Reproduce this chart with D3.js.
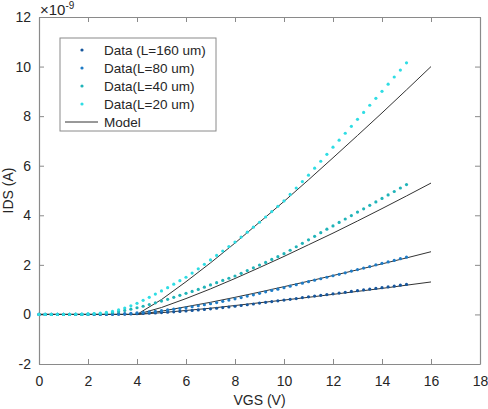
<!DOCTYPE html>
<html>
<head>
<meta charset="utf-8">
<script src="https://cdn.jsdelivr.net/npm/d3@7"></script>
<style>
  body { margin: 0; background: #fff; }
  svg { display: block; font-family: "Liberation Sans", Arial, sans-serif; }
</style>
</head>
<body>
<svg id="chart" width="488" height="409"></svg>
<script>
// measured points, VGS 0..15 V in 0.25 V steps, IDS in units of 1e-9 A
const vgsData = d3.range(0, 15.001, 0.25);

const idsL160 = [0,0,0,0,0,0,0,0,0,0,0,0,0.005,0.01,0.01,0.02,
  0.03,0.04,0.05,0.06,0.075,0.09,0.105,0.12,0.14,0.16,0.18,0.20,0.225,0.25,0.275,0.30,
  0.33,0.36,0.39,0.42,0.46,0.49,0.52,0.55,0.58,0.61,0.64,0.68,0.71,0.74,0.77,0.80,
  0.83,0.86,0.89,0.93,0.96,0.99,1.02,1.05,1.08,1.11,1.14,1.18,1.21];

const idsL80 = [0,0,0,0,0,0,0,0,0,0,0,0.01,0.01,0.02,0.03,0.04,
  0.06,0.08,0.10,0.12,0.15,0.18,0.21,0.24,0.27,0.31,0.35,0.39,0.43,0.48,0.53,0.58,
  0.63,0.68,0.74,0.79,0.85,0.91,0.97,1.02,1.08,1.14,1.20,1.26,1.32,1.38,1.44,1.50,
  1.56,1.62,1.68,1.75,1.81,1.87,1.93,2.00,2.06,2.12,2.18,2.25,2.31];

const idsL40 = [0,0,0,0,0,0,0,0,0.01,0.02,0.03,0.05,0.08,0.11,0.16,0.21,
  0.27,0.33,0.40,0.47,0.54,0.61,0.69,0.77,0.85,0.93,1.01,1.10,1.19,1.28,1.37,1.46,
  1.55,1.66,1.77,1.88,1.99,2.10,2.22,2.33,2.45,2.59,2.73,2.87,3.01,3.15,3.30,3.44,
  3.57,3.71,3.85,3.99,4.13,4.26,4.40,4.54,4.68,4.82,4.96,5.10,5.24];

const idsL20 = [0,0,0,0,0,0,0.01,0.01,0.02,0.03,0.05,0.08,0.12,0.18,0.26,0.35,
  0.45,0.57,0.69,0.82,0.95,1.08,1.22,1.36,1.50,1.67,1.84,2.02,2.20,2.38,2.56,2.74,
  2.92,3.12,3.32,3.52,3.72,3.93,4.15,4.36,4.58,4.84,5.10,5.36,5.62,5.90,6.18,6.46,
  6.75,7.03,7.31,7.59,7.87,8.15,8.44,8.72,9.00,9.29,9.58,9.86,10.15];

// model curves, VGS 0..16 V in 1 V steps
const vgsModel = d3.range(0, 16.001, 1);
const modelL160 = [0,0,0,0,0,0.07,0.16,0.25,0.36,0.47,0.58,0.69,0.81,0.93,1.05,1.18,1.31];
const modelL80  = [0,0,0,0,0,0.13,0.31,0.49,0.69,0.90,1.12,1.34,1.57,1.80,2.04,2.28,2.53];
const modelL40  = [0,0,0,0,0,0.28,0.64,1.03,1.45,1.89,2.34,2.81,3.28,3.77,4.27,4.78,5.30];
const modelL20  = [0,0,0,0,0,0.60,1.32,2.08,2.88,3.72,4.56,5.43,6.32,7.22,8.13,9.06,10.0];

const seriesNames = ["Data (L=160 um)", "Data(L=80 um)", "Data(L=40 um)", "Data(L=20 um)"];
const seriesColors = ["#16569c", "#1f7cc6", "#20b4b9", "#2fdde4"];
const xTicks = [0, 2, 4, 6, 8, 10, 12, 14, 16, 18];
const yTicks = [-2, 0, 2, 4, 6, 8, 10, 12];

const svg = d3.select("#chart");
const margin = {left: 39, right: 8, top: 17, bottom: 45};
const width = 488, height = 409;

const x = d3.scaleLinear().domain([0, 18]).range([margin.left, width - margin.right]);
const y = d3.scaleLinear().domain([-2, 12]).range([height - margin.bottom, margin.top]);

const axisColor = "#8a8a8a";
const textColor = "#262626";
const x0 = x(0), x1 = x(18), y0 = y(-2), y1 = y(12);

/** Axes
------------------------------------------------------------*/

const plain = d => String(d); // keep a hyphen for negatives, like the original

const gx = svg.append("g").attr("transform", `translate(0,${y0})`)
  .call(d3.axisBottom(x).tickValues(xTicks).tickFormat(plain)
    .tickSizeInner(-5).tickSizeOuter(0).tickPadding(12));
const gxTop = svg.append("g").attr("transform", `translate(0,${y1})`)
  .call(d3.axisTop(x).tickValues(xTicks).tickSizeInner(-5).tickSizeOuter(0).tickFormat(""));
const gy = svg.append("g").attr("transform", `translate(${x0},0)`)
  .call(d3.axisLeft(y).tickValues(yTicks).tickFormat(plain)
    .tickSizeInner(-5).tickSizeOuter(0).tickPadding(8));
const gyRight = svg.append("g").attr("transform", `translate(${x1},0)`)
  .call(d3.axisRight(y).tickValues(yTicks).tickSizeInner(-5).tickSizeOuter(0).tickFormat(""));

[gx, gxTop, gy, gyRight].forEach(g => {
  g.select(".domain").attr("stroke", axisColor).attr("stroke-width", 1.2);
  g.selectAll(".tick line").attr("stroke", axisColor);
  g.selectAll(".tick text")
    .attr("fill", textColor)
    .attr("font-size", 14)
    .attr("font-family", "'Liberation Sans', Arial, sans-serif");
});

// exponent label
const expo = svg.append("text")
  .attr("x", x0 + 1)
  .attr("y", y1 - 2)
  .attr("font-size", 15)
  .attr("fill", textColor);
expo.append("tspan").text("\u00d710");
expo.append("tspan").attr("dy", -6).attr("font-size", 10).text("-9");

svg.append("text")
  .attr("x", (x0 + x1) / 2)
  .attr("y", height - 4)
  .attr("text-anchor", "middle")
  .attr("font-size", 14)
  .attr("fill", textColor)
  .text("VGS (V)");

svg.append("text")
  .attr("transform", `translate(13,${(y0 + y1) / 2}) rotate(-90)`)
  .attr("text-anchor", "middle")
  .attr("font-size", 14)
  .attr("fill", textColor)
  .text("IDS (A)");

/** Marks
------------------------------------------------------------*/

const dataSeries = [idsL160, idsL80, idsL40, idsL20];
const modelSeries = [modelL160, modelL80, modelL40, modelL20];

const line = d3.line()
  .x((d, i) => x(vgsModel[i]))
  .y(d => y(d));

svg.append("g")
  .selectAll("path")
  .data(modelSeries)
  .enter().append("path")
  .attr("d", line)
  .attr("fill", "none")
  .attr("stroke", "#333")
  .attr("stroke-width", 1);

svg.append("g")
  .selectAll("g")
  .data(dataSeries)
  .enter().append("g")
  .attr("fill", (d, i) => seriesColors[i])
  .selectAll("circle")
  .data(d => d)
  .enter().append("circle")
  .attr("cx", (d, i) => x(vgsData[i]))
  .attr("cy", d => y(d))
  .attr("r", 1.6);

/** Legend
------------------------------------------------------------*/

const legend = svg.append("g").attr("transform", "translate(60,38)");
legend.append("rect")
  .attr("width", 156).attr("height", 93)
  .attr("fill", "#fff")
  .attr("stroke", axisColor);

const rowY = i => 12 + i * 18;

seriesNames.forEach((name, i) => {
  legend.append("circle")
    .attr("cx", 22).attr("cy", rowY(i))
    .attr("r", 1.6)
    .attr("fill", seriesColors[i]);
  legend.append("text")
    .attr("x", 44).attr("y", rowY(i) + 5)
    .attr("font-size", 13.5)
    .attr("fill", textColor)
    .text(name);
});

legend.append("line")
  .attr("x1", 5).attr("x2", 38)
  .attr("y1", rowY(4)).attr("y2", rowY(4))
  .attr("stroke", "#333");
legend.append("text")
  .attr("x", 44).attr("y", rowY(4) + 5)
  .attr("font-size", 13.5)
  .attr("fill", textColor)
  .text("Model");
</script>
</body>
</html>
